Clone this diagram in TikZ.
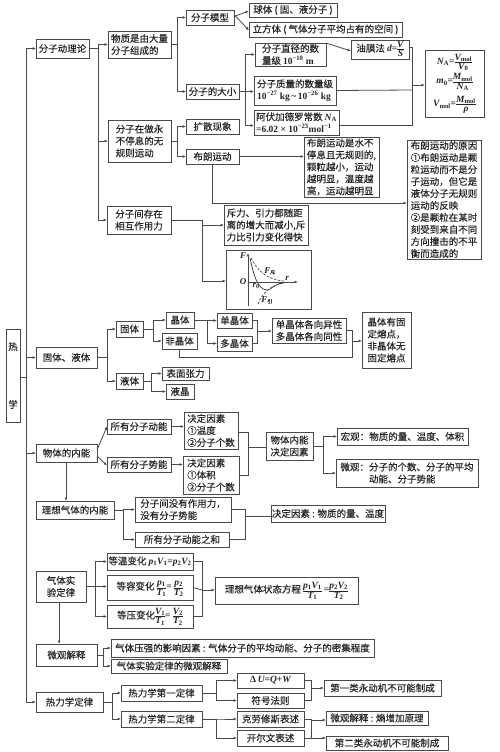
\documentclass[tikz,border=0pt]{standalone}
\usepackage{fontspec}
\usepackage{amsmath}
\setmainfont[FakeBold=0.25]{Noto Sans CJK SC}
\newfontfamily\latf{Liberation Serif}
\usetikzlibrary{arrows.meta}
\definecolor{ln}{HTML}{4A4A4A}
\newcommand{\lt}[1]{{\latf\bfseries #1}}
\newcommand{\vi}[2]{{\latf\bfseries\itshape #1}\textsubscript{\latf\bfseries #2}}
\newcommand{\iv}[1]{{\latf\bfseries\itshape #1}}
\newcommand{\fr}[2]{\ensuremath{\vcenter{\offinterlineskip\halign{\hfil##\hfil\cr\vrule height6.8pt depth1.4pt width0pt\relax #1\cr\noalign{\kern0.2pt\hrule height0.5pt\kern0.2pt}\vrule height6.8pt depth1.4pt width0pt\relax #2\cr}}}}
\tikzset{
  lin/.style={draw=ln,line width=0.8pt},
  arr/.style={lin,-{Latex[length=3.4pt,width=2.8pt]}},
  txt/.style={font=\fontsize{9.5}{12}\selectfont,text=black!85,inner sep=0pt,outer sep=0pt},
  bx/.style={txt,draw=ln,line width=0.9pt,align=left,fill=white},
  lab/.style={font=\latf\bfseries\itshape\fontsize{9}{10}\selectfont,inner sep=0pt,text=black!85}
}
\newcommand{\bx}[6]{\node[bx,minimum width={(#4-#2)*1pt},minimum height={(#5-#3)*1pt}] (#1) at ({(#2+#4)/2},{(#3+#5)/2}) {#6};}
\begin{document}
\begin{tikzpicture}[x=1pt,y=-1pt]
\useasboundingbox (0,0) rectangle (500,752);
% boxes
\bx{heat}{6}{329}{20}{422}{热\\[46pt]学}
\bx{kin}{36}{39}{89}{58}{分子动理论}
\bx{mat}{108}{31}{171}{58}{物质是由大量\\分子组成的}
\bx{model}{186}{10}{234}{25}{分子模型}
\bx{ball}{249}{3}{337}{17}{球体 ( 固、液分子 )}
\bx{cube}{249}{22}{402}{37}{立方体 ( 气体分子平均占有的空间 )}
\bx{size}{186}{84}{239}{99}{分子的大小}
\bx{dia}{255}{43}{326}{66}{分子直径的数\\量级 \lt{10\textsuperscript{−10} m}}
\bx{oil}{351}{40}{409}{59}{油膜法 \iv{d}\lt{=}\fr{\iv{V}}{\iv{S}}}
\bx{mass}{254}{76}{336}{105}{分子质量的数量级\\\lt{10\textsuperscript{−27} kg\,\textasciitilde\,10\textsuperscript{−26} kg}}
\bx{avo}{254}{110}{339}{135}{阿伏加德罗常数 \vi{N}{A}\\\lt{=6.02 × 10\textsuperscript{−23}mol\textsuperscript{−1}}}
\node[bx,minimum width=59pt,minimum height=67pt,align=center] (na) at (454.5,83.5) {%
\vi{N}{A}\lt{=}\fr{\vi{V}{mol}}{\vi{V}{0}}\\[1pt]
\vi{m}{0}\lt{=}\fr{\vi{M}{mol}}{\vi{N}{A}}\\[4pt]
\vi{V}{mol}\lt{=}\fr{\vi{M}{mol}}{\iv{ρ}}};
\bx{moving}{108}{120}{171}{162}{分子在做永\\不停息的无\\规则运动}
\bx{diff}{186}{119}{239}{134}{扩散现象}
\bx{brown}{186}{149}{239}{164}{布朗运动}
\bx{bdesc}{304}{137}{379}{197}{布朗运动是水不\\停息且无规则的,\\颗粒越小，运动\\越明显，温度越\\高，运动越明显}
\bx{bwhy}{407}{140}{481}{259}{布朗运动的原因\\①布朗运动是颗\\粒运动而不是分\\子运动，但它是\\液体分子无规则\\运动的反映\\②是颗粒在某时\\刻受到来自不同\\方向撞击的不平\\衡而造成的}
\bx{inter}{107}{206}{171}{234}{分子间存在\\相互作用力}
\bx{rep}{224}{205}{308}{245}{斥力、引力都随距\\离的增大而减小,斥\\力比引力变化得快}
\bx{gr}{226}{250}{311}{309}{}
\bx{sl}{36}{347}{97}{368}{固体、液体}
\bx{solid}{116}{321}{143}{337}{固体}
\bx{liq}{116}{373}{143}{389}{液体}
\bx{cry}{166}{312}{194}{328}{晶体}
\bx{non}{162}{333}{197}{349}{非晶体}
\bx{sing}{217}{313}{252}{328}{单晶体}
\bx{poly}{217}{336}{252}{351}{多晶体}
\bx{aniso}{272}{318}{346}{343}{单晶体各向异性\\多晶体各向同性}
\bx{melt}{362}{312}{411}{368}{晶体有固\\定熔点，\\非晶体无\\固定熔点}
\bx{surf}{162}{367}{209}{380}{表面张力}
\bx{lc}{166}{384}{194}{399}{液晶}
\bx{inn}{36}{444}{97}{462}{物体的内能}
\bx{ek}{107}{419}{171}{434}{所有分子动能}
\bx{ep}{107}{457}{171}{472}{所有分子势能}
\bx{fk}{184}{412}{238}{449}{决定因素\\①温度\\②分子个数}
\bx{fp}{183}{456}{239}{494}{决定因素\\①体积\\②分子个数}
\bx{det}{266}{432}{313}{460}{物体内能\\决定因素}
\bx{mac}{337}{428}{468}{445}{宏观：物质的量、温度、体积}
\bx{mic}{336}{459}{478}{487}{微观：分子的个数、分子的平均\\\hspace*{28.5pt}动能、分子势能}
\bx{ideal}{36}{501}{114}{519}{理想气体的内能}
\bx{noforce}{135}{497}{231}{522}{分子间没有作用力，\\没有分子势能}
\bx{sumek}{135}{532}{229}{547}{所有分子动能之和}
\bx{idet}{271}{505}{385}{522}{决定因素 : 物质的量、温度}
\bx{gas}{36}{571}{86}{602}{\hspace*{0pt}气体实\\验定律}
\bx{iso}{107}{553}{193}{570}{等温变化 \vi{p}{1}\vi{V}{1}\lt{=}\vi{p}{2}\vi{V}{2}}
\bx{isov}{107}{575}{193}{600}{等容变化 \fr{\vi{p}{1}}{\vi{T}{1}}\lt{=} \fr{\vi{p}{2}}{\vi{T}{2}}}
\bx{isop}{107}{605}{193}{628}{等压变化\fr{\vi{V}{1}}{\vi{T}{1}}\lt{=} \fr{\vi{V}{2}}{\vi{T}{2}}}
\bx{state}{215}{577}{358}{604}{理想气体状态方程 \fr{\vi{p}{1}\vi{V}{1}}{\vi{T}{1}} \lt{=}\fr{\vi{p}{2}\vi{V}{2}}{\vi{T}{2}}}
\bx{micex}{36}{644}{97}{666}{微观解释}
\bx{press}{111}{639}{374}{657}{气体压强的影响因素 : 气体分子的平均动能、分子的密集程度}
\bx{gasmic}{111}{659}{227}{673}{气体实验定律的微观解释}
\bx{thermo}{36}{692}{103}{712}{热力学定律}
\bx{first}{121}{685}{202}{701}{热力学第一定律}
\bx{second}{121}{711}{202}{727}{热力学第二定律}
\bx{du}{237}{673}{304}{688}{\lt{Δ}\,\iv{U}\lt{=}\iv{Q}\lt{+}\iv{W}}
\bx{sign}{237}{693}{304}{708}{符号法则}
\bx{cla}{237}{711}{304}{727}{克劳修斯表述}
\bx{kel}{237}{730}{304}{746}{开尔文表述}
\bx{pm1}{324}{680}{441}{696}{第一类永动机不可能制成}
\bx{ent}{326}{711}{428}{725}{微观解释 : 熵增加原理}
\bx{pm2}{326}{736}{448}{750}{第二类永动机不可能制成}
% junction points
\coordinate (main) at (26.5,377);
\coordinate (jA) at (412,85);
\coordinate (jB) at (257,331);
\coordinate (jC) at (352.5,341);
\coordinate (jD) at (248,447);
\coordinate (jE) at (245,516);
\coordinate (jF) at (202,590);
\coordinate (jG) at (311.5,688);
\coordinate (jH) at (311.5,720);
\coordinate (jI) at (311.5,738);
% trunk
\draw[lin] ([yshift=-1.5pt]heat.east) -- (main);
\draw[arr] (main) |- (kin.west);
\draw[arr] (main) |- (sl.west);
\draw[arr] (main) |- (inn.west);
\draw[arr] (main) |- (thermo.west);
% kinetics
\draw[arr] (kin.east) -- ++(9,0) |- (mat.west);
\draw[arr] (kin.east) -- ++(9,0) |- (moving.west);
\draw[arr] (kin.east) -- ++(9,0) |- (inter.west);
\draw[arr] (mat.east) -- ++(6,0) |- (model.west);
\draw[arr] (mat.east) -- ++(6,0) |- (size.west);
\draw[arr] ([yshift=1pt]model.east) -- ([yshift=-1pt]ball.west);
\draw[arr] ([yshift=3pt]model.east) -- ([yshift=-1pt]cube.west);
\draw[arr] (size.east) -- ++(6,0) |- (dia.west);
\draw[arr] (size.east) -- (size.east -| mass.west);
\draw[arr] (size.east) -- ++(6,0) |- ([yshift=-3pt]avo.west);
\draw[arr] ([yshift=6.5pt]dia.east |- oil.west) -- ([yshift=-1.5pt]oil.west);
\draw[lin] ([yshift=2.5pt]oil.east) -| (jA);
\draw[lin] ([yshift=-2.5pt]avo.east) -| (jA);
\draw[lin] (mass.east) -- ([yshift=-5pt]jA);
\draw[arr] (jA) -- (jA -| na.west);
\draw[arr] (moving.east) -- ++(6,0) |- (diff.west);
\draw[arr] (moving.east) -- ++(6,0) |- (brown.west);
\draw[arr] (brown.east) -- (brown.east -| bdesc.west);
\draw[arr] (brown.south -| 212,0) |- ([yshift=-3.5pt]bwhy.west);
\draw[arr] (inter.east) -- ++(31,0) |- (rep.west);
\draw[arr] (inter.east) -- ++(31,0) |- ([yshift=-1.5pt]gr.west);
% solids
\draw[arr] (sl.east) -- ++(10.5,0) |- (solid.west);
\draw[arr] (sl.east) -- ++(10.5,0) |- (liq.west);
\draw[arr] (solid.east) -- ++(10,0) |- (cry.west);
\draw[arr] (solid.east) -- ++(10,0) |- (non.west);
\draw[arr] (cry.east) -- ++(13,0) |- (sing.west);
\draw[arr] (cry.east) -- ++(13,0) |- (poly.west);
\draw[arr] (liq.east) -- ++(8,0) |- (surf.west);
\draw[arr] (liq.east) -- ++(8,0) |- (lc.west);
\draw[lin] (sing.east) -| (jB);
\draw[lin] (poly.east) -| (jB);
\draw[arr] (jB) -- (jB -| aniso.west);
\draw[lin] (aniso.east) -| (jC);
\draw[lin] (non.south) |- (352.5,357) -- (jC);
\draw[arr] (jC) -- (jC -| melt.west);
% internal energy
\draw[arr] ([yshift=3pt]inn.east) -- (ek.west);
\draw[arr] ([yshift=-3pt]inn.east) -- ([yshift=-1pt]ep.west);
\draw[arr] (ek.east) -- (ek.east -| fk.west);
\draw[arr] (ep.east) -- (ep.east -| fp.west);
\draw[lin] ([yshift=-1.5pt]fk.east) -| (jD);
\draw[lin] ([yshift=-0pt]fp.east) -| (jD);
\draw[lin] (jD) -- (jD -| det.west);
\draw[arr] (det.east) -- ++(10.5,0) |- (mac.west);
\draw[arr] (det.east) -- ++(10.5,0) |- (mic.west);
\draw[arr] (inn.south -| 66,0) -- (ideal.north -| 66,0);
\draw[arr] (ideal.east) -- ++(9,0) |- (noforce.west);
\draw[arr] (ideal.east) -- ++(9,0) |- (sumek.west);
\draw[lin] (noforce.east) -| (jE);
\draw[lin] (sumek.east) -| (jE);
\draw[lin] (jE) -- (jE -| idet.west);
% gas
\draw[arr] (gas.east) -- ++(9,0) |- (iso.west);
\draw[arr] (gas.east) -- ++(21,0);
\draw[arr] (gas.east) -- ++(9,0) |- (isop.west);
\draw[lin] (iso.east) -| (jF);
\draw[lin] (isop.east) -| (jF);
\draw[lin] (isov.east) -- (jF);
\draw[arr] (jF) -- (jF -| state.west);
\draw[arr] (gas.south -| 59,0) -- (micex.north -| 59,0);
\draw[arr] (micex.east) -- ++(6,0) |- (press.west);
\draw[arr] (micex.east) -- ++(6,0) |- (gasmic.west);
% thermodynamics
\draw[arr] (thermo.east) -- ++(9,0) |- (first.west);
\draw[arr] (thermo.east) -- ++(9,0) |- (second.west);
\draw[arr] (first.east) -- ++(14,0) |- (du.west);
\draw[arr] (first.east) -- ++(14,0) |- (sign.west);
\draw[arr] (second.east) -- ++(14,0) |- (cla.west);
\draw[arr] (second.east) -- ++(14,0) |- (kel.west);
\draw[lin] (du.east) -| (jG);
\draw[lin] (sign.east) -| (jG);
\draw[arr] (jG) -- (jG -| pm1.west);
\draw[lin] (cla.east) -| (jI);
\draw[lin] (kel.east) -| (jI);
\draw[arr] (jH) -- (jH -| ent.west);
\draw[arr] (jI) -- (jI -| pm2.west);
% force graph
\draw[arr,line width=0.7pt] (248,306) -- (248,253);
\draw[arr,line width=0.7pt] (248,282) -- (298,282);
\draw[lin,line width=0.7pt,dash pattern=on 2.5pt off 1.5pt] (251,258) .. controls (257,270) and (267,280) .. (284,281);
\draw[lin] (250,258) .. controls (253,272) and (257,290) .. (267,290) .. controls (272,290) and (273,284) .. (283,283);
\draw[lin,line width=0.7pt,dash pattern=on 2.5pt off 1.5pt] (258,304) .. controls (262,294) and (270,285) .. (284,283);
\node[lab] (lF) at (243,256) {F};
\node[lab] (lO) at (243,282) {O};
\node[lab] (lr0) at (256,286) {r\textsubscript{\latf\bfseries\upshape 0}};
\node[lab] (lr) at (287,278) {r};
\node[lab] (lFr) at (270,271) {F\textsubscript{\fontsize{5}{5}\selectfont\rmfamily\mdseries\upshape 斥}};
\node[lab] (lFa) at (267,300) {F\textsubscript{\fontsize{5}{5}\selectfont\rmfamily\mdseries\upshape 引}};
\end{tikzpicture}
\end{document}
